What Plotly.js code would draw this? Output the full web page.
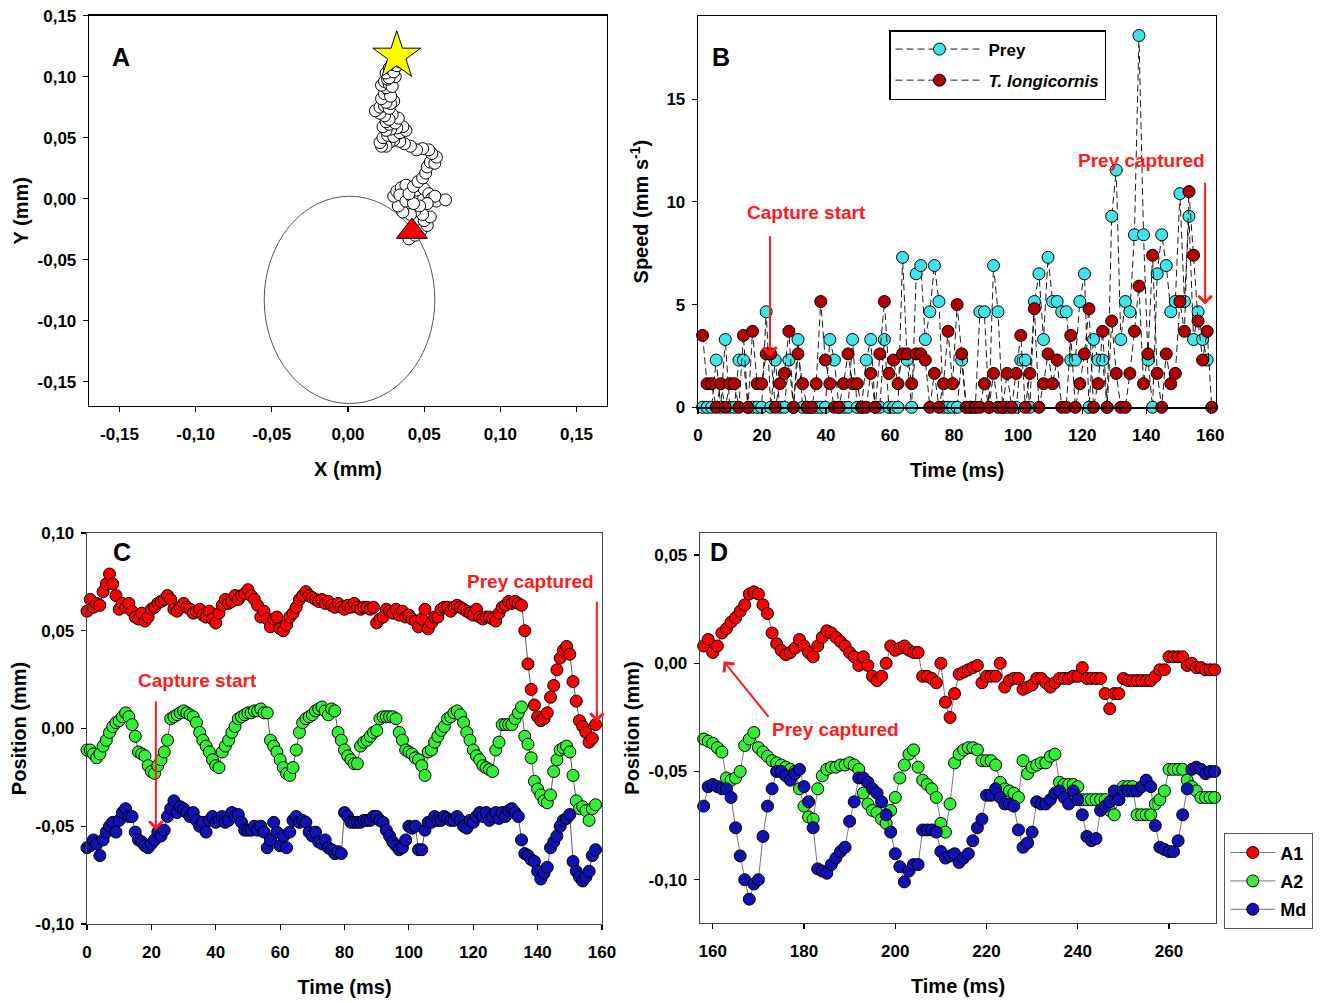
<!DOCTYPE html>
<html><head><meta charset="utf-8">
<script src="https://cdn.plot.ly/plotly-3.0.1.min.js"></script>
<style>html,body{margin:0;padding:0;background:#fff}#plot{width:1330px;height:1003px}</style>
</head><body><div id="plot"></div>
<script>
// ---------- Panel A: trajectory ----------
const pathX = [0.040,0.044,0.048,0.052,0.050,0.054,0.049,0.044,0.041,0.036,
 0.033,0.030,0.032,0.035,0.038,0.034,0.038,0.042,0.045,0.047,
 0.050,0.053,0.055,0.058,0.064,0.057,0.052,0.047,0.043,0.040,
 0.043,0.046,0.049,0.051,0.052,0.054,0.057,0.058,0.055,0.053,
 0.049,0.045,0.041,0.037,0.034,0.030,0.027,0.025,0.022,0.021,
 0.023,0.026,0.030,0.034,0.038,0.036,0.032,0.028,0.025,0.023,
 0.027,0.031,0.033,0.029,
 0.025,0.027,0.024,0.021,0.018,0.021,0.024,0.027,0.030,0.028,0.025,0.022,
 0.024,0.027,0.028,0.025,0.022,0.024,0.027,0.029,0.031,0.026,0.027,0.025,
 0.027,0.030,0.029,0.032,0.034];
const pathY = [-0.033,-0.030,-0.026,-0.022,-0.018,-0.015,-0.013,-0.010,-0.013,-0.011,
 -0.006,0.002,0.006,0.009,0.011,0.003,-0.002,0.001,0.007,0.011,
 0.008,0.004,0.000,-0.002,-0.001,0.002,-0.004,-0.006,-0.004,0.004,
 0.010,0.014,0.017,0.021,0.026,0.030,0.029,0.034,0.037,0.040,
 0.041,0.040,0.043,0.045,0.047,0.048,0.046,0.043,0.043,0.046,
 0.050,0.052,0.051,0.054,0.056,0.059,0.058,0.057,0.056,0.059,
 0.061,0.062,0.066,0.069,
 0.063,0.065,0.068,0.070,0.072,0.075,0.076,0.074,0.080,0.078,0.079,0.082,
 0.086,0.088,0.084,0.091,0.093,0.096,0.094,0.092,0.100,0.098,0.099,0.103,
 0.107,0.104,0.110,0.109,0.112];
const starX = [0.032], starY = [0.117];
const triX = [0.042], triY = [-0.027];
const ellipseX = [-0.055, 0.057], ellipseY = [-0.168, 0.002];
const tickA = [-0.15,-0.10,-0.05,0,0.05,0.10,0.15];
const tickAtext = ['-0,15','-0,10','-0,05','0,00','0,05','0,10','0,15'];

// ---------- Panel B: speed ----------
const tB = [1.42,2.84,4.26,5.68,7.10,8.52,9.94,11.36,12.78,14.2,
 15.62,17.04,18.46,19.88,21.3,22.72,24.14,25.56,26.98,28.4,
 29.82,31.24,32.66,34.08,35.5,36.92,38.34,39.76,41.18,42.6,
 44.02,45.44,46.86,48.28,49.7,51.12,52.54,53.96,55.38,56.8,
 58.22,59.64,61.06,62.48,63.9,65.32,66.74,68.16,69.58,71.0,
 72.42,73.84,75.26,76.68,78.1,79.52,80.94,82.36,83.78,85.2,
 86.62,88.04,89.46,90.88,92.3,93.72,95.14,96.56,97.98,99.4,
 100.82,102.24,103.66,105.08,106.5,107.92,109.34,110.76,112.18,113.6,
 115.02,116.44,117.86,119.28,120.7,122.12,123.54,124.96,126.38,127.8,
 129.22,130.64,132.06,133.48,134.9,136.32,137.74,139.16,140.58,142.0,
 143.42,144.84,146.26,147.68,149.1,150.52,151.94,153.36,154.78,156.2,
 157.62,159.04,160.46];
const preySpeed = [0,0,0,2.3,0,3.3,0,0,2.3,2.3,
 0,0,0,0,4.65,0,2.3,0,0,2.3,
 0,3.3,0,0,0,0,0,0,3.3,2.3,
 0,0,0,3.3,0,0,2.3,3.3,0,0,
 3.3,0,0,0,7.3,2.3,0,6.5,6.9,3.3,
 4.65,6.9,5.15,0,0,0,0,2.3,0,0,
 0,4.65,4.65,0,6.9,4.65,0,0,0,0,
 2.3,2.3,0,5.15,6.5,3.3,7.3,5.15,5.15,4.65,
 4.65,2.3,2.3,5.15,6.5,0,3.3,2.3,2.3,0,
 9.3,11.55,3.3,5.15,4.65,8.4,18.1,8.4,2.3,0,
 6.5,8.4,6.9,4.65,5.15,10.4,5.15,9.3,3.3,4.65,
 3.3,2.3];
const predSpeed = [3.5,1.15,1.15,0,1.15,0,1.15,1.15,0,3.5,
 0,3.7,1.15,1.15,2.6,2.6,0,1.15,1.65,3.7,
 0,2.6,1.15,0,0,1.15,5.15,2.3,1.15,0,
 0,1.15,2.6,1.15,1.15,0,0,1.65,0,2.6,
 5.15,1.65,2.3,1.15,2.6,2.6,1.15,2.6,2.6,2.3,
 0,1.65,0,1.15,3.7,1.15,5.0,2.6,0,0,
 0,0,1.15,0,1.65,0,0,1.65,0,1.65,
 3.5,0,1.65,4.8,0,1.15,2.6,1.15,2.3,0,
 0,3.5,0,1.15,2.6,4.8,0,1.15,3.7,0,
 4.2,1.65,0,0,1.65,3.7,5.9,1.15,2.6,7.4,
 1.65,0,2.6,1.15,1.65,5.15,3.7,10.5,7.4,4.2,
 2.3,3.7,0];
const tickBx = [0,20,40,60,80,100,120,140,160];
const tickBy = [0,5,10,15];

// ---------- Panel C: appendage positions 0-158 ms ----------
const tC = [0,1,2,3,4,5,6,7,8,9,10,11,12,13,14,15,16,17,18,19,
 20,21,22,23,24,25,26,27,28,29,30,31,32,33,34,35,36,37,38,39,
 40,41,42,43,44,45,46,47,48,49,50,51,52,53,54,55,56,57,58,59,
 60,61,62,63,64,65,66,67,68,69,70,71,72,73,74,75,76,77,78,79,
 80,81,82,83,84,85,86,87,88,89,90,91,92,93,94,95,96,97,98,99,
 100,101,102,103,104,105,106,107,108,109,110,111,112,113,114,115,116,117,118,119,
 120,121,122,123,124,125,126,127,128,129,130,131,132,133,134,135,136,137,138,139,
 140,141,142,143,144,145,146,147,148,149,150,151,152,153,154,155,156,157,158];
const cA1 = [0.060,0.066,0.062,0.064,0.063,0.070,0.074,0.079,0.074,0.068,
 0.061,0.064,0.062,0.064,0.060,0.057,0.056,0.059,0.055,0.057,
 0.061,0.062,0.064,0.065,0.066,0.068,0.066,0.061,0.060,0.062,
 0.064,0.062,0.061,0.059,0.060,0.061,0.058,0.057,0.060,0.056,
 0.054,0.059,0.063,0.066,0.064,0.065,0.068,0.066,0.068,0.069,
 0.071,0.068,0.066,0.063,0.057,0.060,0.056,0.052,0.056,0.057,
 0.051,0.050,0.053,0.057,0.059,0.062,0.066,0.068,0.070,0.068,
 0.067,0.066,0.065,0.066,0.064,0.065,0.063,0.062,0.064,0.062,
 0.061,0.063,0.062,0.064,0.062,0.061,0.062,0.062,0.061,0.062,
 0.054,0.056,0.057,0.061,0.060,0.059,0.061,0.058,0.060,0.057,
 0.058,0.056,0.055,0.052,0.056,0.061,0.051,0.054,0.057,0.057,
 0.061,0.062,0.062,0.060,0.062,0.063,0.062,0.061,0.060,0.059,
 0.058,0.061,0.057,0.056,0.057,0.057,0.056,0.055,0.059,0.062,
 0.063,0.065,0.064,0.065,0.064,0.063,0.050,0.033,0.020,0.012,
 0.006,0.004,0.005,0.008,0.016,0.022,0.030,0.036,0.040,0.042,
 0.038,0.024,0.014,0.004,0.001,-0.002,-0.007,-0.005,0.002];
const cA2 = [-0.011,-0.011,-0.013,-0.015,-0.013,-0.009,-0.006,-0.002,0.001,0.003,
 0.004,0.006,0.008,0.006,0.002,-0.004,-0.012,-0.013,-0.014,-0.019,
 -0.022,-0.023,-0.019,-0.016,-0.012,-0.006,0.005,0.006,0.007,0.008,
 0.009,0.008,0.007,0.006,0.003,-0.002,-0.006,-0.009,-0.012,-0.016,
 -0.019,-0.020,-0.012,-0.009,-0.006,-0.002,0.001,0.005,0.006,0.007,
 0.008,0.008,0.009,0.009,0.010,0.008,0.008,-0.006,-0.009,-0.012,
 -0.016,-0.020,-0.023,-0.024,-0.020,-0.011,-0.002,0.003,0.005,0.006,
 0.007,0.009,0.010,0.011,0.009,0.007,0.010,0.009,-0.002,-0.006,
 -0.011,-0.014,-0.016,-0.018,-0.018,-0.009,-0.007,-0.006,-0.004,-0.002,
 -0.001,0.005,0.006,0.006,0.006,0.006,0.005,-0.002,-0.006,-0.011,
 -0.012,-0.013,-0.015,-0.016,-0.019,-0.024,-0.012,-0.011,-0.007,-0.004,
 -0.001,0.001,0.005,0.006,0.008,0.009,0.007,0.003,-0.002,-0.006,
 -0.011,-0.014,-0.016,-0.019,-0.020,-0.021,-0.022,-0.011,-0.007,0.002,
 0.002,0.002,0.002,0.005,0.008,0.011,-0.004,-0.008,-0.015,-0.027,
 -0.031,-0.034,-0.037,-0.038,-0.034,-0.022,-0.016,-0.011,-0.010,-0.009,
 -0.012,-0.024,-0.037,-0.041,-0.040,-0.042,-0.047,-0.041,-0.039];
const cMd = [-0.061,-0.060,-0.057,-0.059,-0.065,-0.057,-0.053,-0.050,-0.048,-0.053,
 -0.047,-0.043,-0.041,-0.045,-0.045,-0.053,-0.057,-0.058,-0.060,-0.061,
 -0.059,-0.057,-0.053,-0.055,-0.052,-0.045,-0.041,-0.037,-0.043,-0.040,
 -0.041,-0.043,-0.045,-0.043,-0.047,-0.050,-0.048,-0.053,-0.047,-0.045,
 -0.048,-0.047,-0.045,-0.048,-0.047,-0.043,-0.045,-0.044,-0.048,-0.052,
 -0.052,-0.052,-0.050,-0.052,-0.050,-0.053,-0.061,-0.057,-0.048,-0.053,
 -0.060,-0.055,-0.061,-0.053,-0.047,-0.045,-0.048,-0.047,-0.048,-0.053,
 -0.055,-0.053,-0.058,-0.059,-0.057,-0.061,-0.062,-0.064,-0.063,-0.064,
 -0.043,-0.045,-0.048,-0.048,-0.048,-0.048,-0.047,-0.047,-0.047,-0.045,
 -0.045,-0.047,-0.048,-0.052,-0.055,-0.058,-0.060,-0.062,-0.061,-0.057,
 -0.050,-0.051,-0.050,-0.062,-0.062,-0.052,-0.048,-0.048,-0.045,-0.047,
 -0.047,-0.045,-0.046,-0.047,-0.047,-0.045,-0.047,-0.050,-0.051,-0.047,
 -0.048,-0.045,-0.043,-0.045,-0.043,-0.047,-0.045,-0.043,-0.046,-0.043,
 -0.045,-0.042,-0.041,-0.043,-0.045,-0.057,-0.064,-0.065,-0.067,-0.068,
 -0.073,-0.077,-0.074,-0.071,-0.061,-0.058,-0.055,-0.050,-0.047,-0.046,
 -0.044,-0.068,-0.073,-0.076,-0.078,-0.076,-0.073,-0.065,-0.062];
const tickCx = [0,20,40,60,80,100,120,140,160];
const tickCy = [-0.10,-0.05,0,0.05,0.10];
const tickCytext = ['-0,10','-0,05','0,00','0,05','0,10'];

// ---------- Panel D: appendage positions 158-270 ms ----------
const tD = [158,159,160,161,162,163,164,165,166,167,168,169,170,171,172,173,174,175,176,177,
 178,179,180,181,182,183,184,185,186,187,188,189,190,191,192,193,194,195,196,197,
 198,199,200,201,202,203,204,205,206,207,208,209,210,211,212,213,214,215,216,217,
 218,219,220,221,222,223,224,225,226,227,228,229,230,231,232,233,234,235,236,237,
 238,239,240,241,242,243,244,245,246,247,248,249,250,251,252,253,254,255,256,257,
 258,259,260,261,262,263,264,265,266,267,268,269,270];
const dA1 = [0.008,0.011,0.005,0.008,0.014,0.016,0.019,0.021,0.024,0.027,
 0.032,0.033,0.032,0.027,0.023,0.014,0.009,0.006,0.004,0.005,
 0.007,0.011,0.008,0.005,0.003,0.008,0.012,0.015,0.014,0.012,
 0.010,0.008,0.005,0.003,-0.001,0.003,-0.001,-0.006,-0.008,-0.006,
 0.000,0.008,0.006,0.007,0.008,0.006,0.005,0.005,-0.006,-0.006,
 -0.007,-0.009,0.000,-0.018,-0.025,-0.014,-0.005,-0.004,-0.003,-0.002,
 -0.001,-0.009,-0.006,-0.006,-0.006,0.000,-0.011,-0.008,-0.007,-0.007,
 -0.012,-0.011,-0.010,-0.007,-0.007,-0.009,-0.011,-0.009,-0.007,-0.007,
 -0.007,-0.006,-0.006,-0.002,-0.007,-0.007,-0.007,-0.007,-0.014,-0.021,
 -0.014,-0.014,-0.007,-0.008,-0.008,-0.008,-0.008,-0.008,-0.008,-0.006,
 -0.003,-0.003,0.003,0.003,0.003,0.003,-0.001,0.000,-0.002,-0.002,
 -0.003,-0.003,-0.003];
const dA2 = [-0.035,-0.036,-0.037,-0.039,-0.041,-0.053,-0.054,-0.053,-0.050,-0.038,
 -0.035,-0.032,-0.039,-0.041,-0.043,-0.045,-0.046,-0.047,-0.048,-0.049,
 -0.050,-0.058,-0.066,-0.071,-0.072,-0.058,-0.052,-0.049,-0.048,-0.048,
 -0.047,-0.047,-0.046,-0.047,-0.049,-0.060,-0.065,-0.068,-0.069,-0.072,
 -0.074,-0.068,-0.062,-0.053,-0.047,-0.042,-0.040,-0.048,-0.054,-0.056,
 -0.058,-0.062,-0.074,-0.078,-0.065,-0.046,-0.042,-0.040,-0.039,-0.039,
 -0.040,-0.045,-0.045,-0.045,-0.047,-0.055,-0.058,-0.059,-0.060,-0.062,
 -0.045,-0.051,-0.048,-0.047,-0.046,-0.046,-0.043,-0.042,-0.055,-0.056,
 -0.056,-0.056,-0.057,-0.063,-0.063,-0.063,-0.063,-0.063,-0.063,-0.068,
 -0.070,-0.063,-0.057,-0.057,-0.057,-0.070,-0.070,-0.070,-0.070,-0.065,
 -0.063,-0.059,-0.049,-0.049,-0.049,-0.049,-0.054,-0.057,-0.059,-0.062,
 -0.062,-0.062,-0.062];
const dMd = [-0.066,-0.057,-0.056,-0.057,-0.058,-0.058,-0.062,-0.076,-0.089,-0.100,
 -0.109,-0.102,-0.100,-0.080,-0.066,-0.058,-0.050,-0.050,-0.052,-0.054,
 -0.051,-0.049,-0.057,-0.064,-0.076,-0.095,-0.096,-0.097,-0.093,-0.090,
 -0.087,-0.085,-0.073,-0.064,-0.053,-0.053,-0.055,-0.058,-0.060,-0.064,
 -0.070,-0.078,-0.088,-0.094,-0.101,-0.096,-0.093,-0.093,-0.077,-0.077,
 -0.077,-0.078,-0.087,-0.090,-0.089,-0.088,-0.092,-0.090,-0.088,-0.082,
 -0.076,-0.072,-0.061,-0.061,-0.058,-0.062,-0.065,-0.065,-0.066,-0.077,
 -0.085,-0.083,-0.078,-0.064,-0.065,-0.065,-0.063,-0.060,-0.059,-0.062,
 -0.065,-0.059,-0.063,-0.070,-0.080,-0.082,-0.081,-0.068,-0.066,-0.064,
 -0.059,-0.063,-0.059,-0.059,-0.059,-0.059,-0.057,-0.054,-0.057,-0.075,
 -0.085,-0.086,-0.087,-0.087,-0.082,-0.070,-0.058,-0.049,-0.048,-0.049,
 -0.051,-0.050,-0.050];
const tickDx = [160,180,200,220,240,260];
const tickDy = [-0.10,-0.05,0,0.05];
const tickDytext = ['-0,10','-0,05','0,00','0,05'];

// ---------- styling ----------
const FONT = 'Liberation Sans, Arial, Helvetica, sans-serif';
const W = 1330, H = 1003;
const px = v => v / W, py = v => 1 - v / H;
const RED = '#ff1a1a';
const COL = {A1:'#ff0000', A2:'#33ee33', Md:'#1212b4', prey:'#3fe3e8', pred:'#b00000'};

function axis(dom, rng, tv, tt, ttl, anchor, isY, lc, so) {
  return {domain: dom, range: rng, anchor: anchor, tickmode: 'array', tickvals: tv, ticktext: tt,
    showgrid: false, zeroline: false, showline: true, mirror: true, linecolor: lc || '#000', linewidth: 1.3,
    ticks: 'outside', ticklen: 5, tickwidth: 1.2, tickcolor: '#000',
    tickfont: {family: FONT, size: 17, color: '#000', weight: 'bold'},
    ticklabelstandoff: isY ? 3 : 7,
    title: {text: ttl, font: {family: FONT, size: 20, color: '#000', weight: 'bold'},
      standoff: so !== undefined ? so : (isY ? 3 : 19)}};
}

const mk = (color, size) => ({color: color, size: size, line: {color: '#000', width: 1}});

const traces = [
  // A
  {x: pathX, y: pathY, xaxis: 'x', yaxis: 'y', mode: 'lines+markers', showlegend: false,
   line: {color: '#222', width: 0.8}, marker: mk('#ffffff', 12)},
  {x: starX, y: starY, xaxis: 'x', yaxis: 'y', mode: 'markers', showlegend: false,
   marker: {symbol: 'star', size: 36, color: '#ffff00', line: {color: '#000', width: 1}}},
  {x: triX, y: triY, xaxis: 'x', yaxis: 'y', mode: 'markers', showlegend: false,
   marker: {symbol: 'triangle-up', size: 27, color: '#ff0000', line: {color: '#000', width: 1}}},
  // B
  {x: tB.slice(0, preySpeed.length), y: preySpeed, xaxis: 'x2', yaxis: 'y2', mode: 'lines+markers',
   name: 'Prey', legend: 'legend', legendgroup: 'g1', cliponaxis: false,
   line: {color: '#000', width: 0.9, dash: '7px,4px'}, marker: mk(COL.prey, 12)},
  {x: tB, y: predSpeed, xaxis: 'x2', yaxis: 'y2', mode: 'lines+markers',
   name: '<i>T. longicornis</i>', legend: 'legend', legendgroup: 'g2', cliponaxis: false,
   line: {color: '#000', width: 0.9, dash: '7px,4px'}, marker: mk(COL.pred, 12)},
  // C
  {x: tC, y: cA1, xaxis: 'x3', yaxis: 'y3', mode: 'lines+markers', showlegend: false, cliponaxis: false,
   line: {color: '#333', width: 0.8}, marker: mk(COL.A1, 12)},
  {x: tC, y: cA2, xaxis: 'x3', yaxis: 'y3', mode: 'lines+markers', showlegend: false, cliponaxis: false,
   line: {color: '#333', width: 0.8}, marker: mk(COL.A2, 12)},
  {x: tC, y: cMd, xaxis: 'x3', yaxis: 'y3', mode: 'lines+markers', showlegend: false, cliponaxis: false,
   line: {color: '#333', width: 0.8}, marker: mk(COL.Md, 12)},
  // D
  {x: tD, y: dA1, xaxis: 'x4', yaxis: 'y4', mode: 'lines+markers', name: 'A1', legend: 'legend2',
   legendgroup: 'h1', cliponaxis: false, line: {color: '#555', width: 0.8}, marker: mk(COL.A1, 12)},
  {x: tD, y: dA2, xaxis: 'x4', yaxis: 'y4', mode: 'lines+markers', name: 'A2', legend: 'legend2',
   legendgroup: 'h2', cliponaxis: false, line: {color: '#555', width: 0.8}, marker: mk(COL.A2, 12)},
  {x: tD, y: dMd, xaxis: 'x4', yaxis: 'y4', mode: 'lines+markers', name: 'Md', legend: 'legend2',
   legendgroup: 'h3', cliponaxis: false, line: {color: '#555', width: 0.8}, marker: mk(COL.Md, 12)}
];

const letter = (t, x, y) => ({text: t, xref: 'paper', yref: 'paper', x: px(x), y: py(y),
  showarrow: false, font: {family: FONT, size: 25, color: '#000', weight: 'bold'}});
const redText = (t, xr, yr, x, y) => ({text: t, xref: xr, yref: yr, x: x, y: y, showarrow: false,
  font: {family: FONT, size: 19, color: RED, weight: 'bold'}});
const arrow = (xr, yr, x, y, ax, ay) => ({text: '', xref: xr, yref: yr, axref: xr, ayref: yr,
  x: x, y: y, ax: ax, ay: ay, showarrow: true, arrowcolor: RED, arrowwidth: 2, arrowhead: 4, arrowsize: 1.3});

const layout = {
  width: W, height: H, margin: {l: 0, r: 0, t: 0, b: 0},
  paper_bgcolor: '#fff', plot_bgcolor: '#fff',
  font: {family: FONT, color: '#000'},
  xaxis: axis([px(89), px(607)], [-0.17, 0.17], tickA, tickAtext, 'X (mm)', 'y', false),
  yaxis: axis([py(406), py(15.7)], [-0.17, 0.15], tickA, tickAtext, 'Y (mm)', 'x', true),
  xaxis2: axis([px(698), px(1216)], [0, 161.8], tickBx, tickBx.map(String), 'Time (ms)', 'y2', false),
  yaxis2: axis([py(407.3), py(16)], [0, 19.05], tickBy, tickBy.map(String), 'Speed (mm s<sup>-1</sup>)', 'x2', true, '#000', 12),
  xaxis3: axis([px(87), px(602)], [0, 160], tickCx, tickCx.map(String), 'Time (ms)', 'y3', false, '#444'),
  yaxis3: axis([py(924), py(533)], [-0.10, 0.10], tickCy, tickCytext, 'Position (mm)', 'x3', true, '#444'),
  xaxis4: axis([px(700), px(1216)], [157.2, 270.3], tickDx, tickDx.map(String), 'Time (ms)', 'y4', false, '#444'),
  yaxis4: axis([py(923), py(533)], [-0.120, 0.0602], tickDy, tickDytext, 'Position (mm)', 'x4', true, '#444'),
  shapes: [{type: 'circle', xref: 'x', yref: 'y', x0: ellipseX[0], x1: ellipseX[1], y0: ellipseY[0], y1: ellipseY[1],
    line: {color: '#555', width: 1}, layer: 'below'}],
  legend: {x: px(889), y: py(30), xanchor: 'left', yanchor: 'top', bgcolor: '#fff',
    bordercolor: '#000', borderwidth: 1.5, itemwidth: 88, tracegroupgap: 6,
    font: {family: FONT, size: 17, color: '#000', weight: 'bold'}},
  legend2: {x: px(1224), y: py(833), xanchor: 'left', yanchor: 'top', bgcolor: '#fff',
    bordercolor: '#555', borderwidth: 1.3, itemwidth: 45, tracegroupgap: 2,
    font: {family: FONT, size: 18, color: '#000', weight: 'bold'}},
  annotations: [
    letter('A', 110, 41), letter('B', 721, 41), letter('C', 111, 552), letter('D', 719, 552),
    redText('Capture start', 'x2', 'y2', 34, 9.5),
    arrow('x2', 'y2', 22.5, 2.5, 22.5, 8.4),
    redText('Prey captured', 'x2', 'y2', 138.4, 12.0),
    arrow('x2', 'y2', 158.4, 5.0, 158.4, 11.0),
    redText('Capture start', 'x3', 'y3', 34.2, 0.0243),
    arrow('x3', 'y3', 21.4, -0.052, 21.4, 0.0146),
    redText('Prey captured', 'x3', 'y3', 137.9, 0.0754),
    arrow('x3', 'y3', 158.4, 0.0033, 158.4, 0.0657),
    redText('Prey captured', 'x4', 'y4', 187.0, -0.0305),
    arrow('x4', 'y4', 162.4, 0.0009, 172.5, -0.0254)
  ]
};

Plotly.newPlot('plot', traces, layout, {staticPlot: true, displayModeBar: false});
</script></body></html>
